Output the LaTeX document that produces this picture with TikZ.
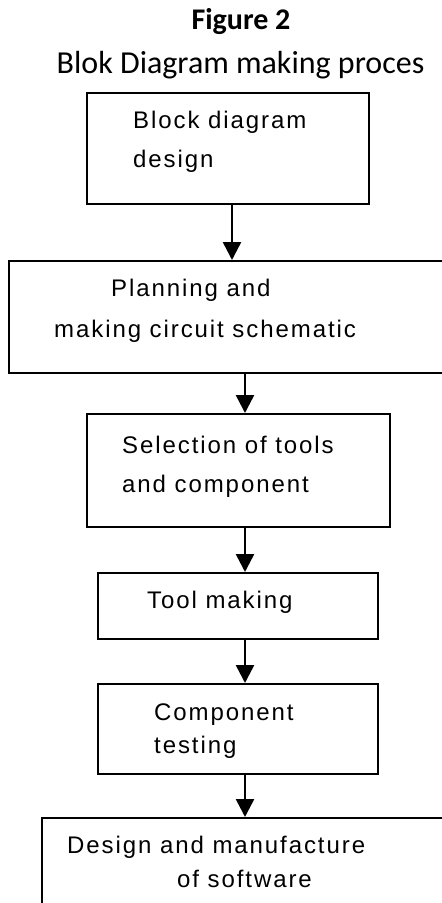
\documentclass[tikz,border=0pt]{standalone}
\usepackage{fontspec}
\setmainfont{Liberation Sans}
\newfontfamily\captionfont{Carlito}
\newfontfamily\boxfont{Liberation Sans}[LetterSpace=8]
\usetikzlibrary{arrows.meta}

\begin{document}
\begin{tikzpicture}[x=1pt, y=-1pt,
    box/.style={draw, line width=2pt, anchor=north west, inner sep=0pt},
    boxtext/.style={anchor=base west, align=left, inner sep=0pt, font=\boxfont\fontsize{24}{#1}\selectfont},
    boxtext/.default=39,
    flow/.style={-{Triangle[width=18pt,length=18pt]}, line width=2.5pt}]
    \useasboundingbox (0,0) rectangle (442,903);  % page size
    \clip (0,0) rectangle (442,903);  % cut the boxes that run off the page

    % Headings
    \node (title) [anchor=base, inner sep=0pt, font=\captionfont\bfseries\fontsize{30}{36}\selectfont] at (241,29) {Figure 2};  % figure number
    \node (subtitle) [anchor=base, inner sep=0pt, font=\captionfont\fontsize{32}{38}\selectfont] at (240.5,73) {Blok Diagram making proces};  % figure caption

    % Boxes
    \node (design) [box, minimum width=282pt, minimum height=111pt] at (86,92) {};  % first step
    \node (plan) [box, minimum width=460pt, minimum height=112pt] at (8,260) {};  % second step, runs off the right side
    \node (select) [box, minimum width=303pt, minimum height=113pt] at (86,413) {};  % third step
    \node (make) [box, minimum width=280pt, minimum height=66pt] at (97,572) {};  % fourth step
    \node (test) [box, minimum width=280pt, minimum height=90pt] at (97,683) {};  % fifth step
    \node (soft) [box, minimum width=430pt, minimum height=120pt] at (41,817) {};  % last step, runs off the page

    % Box texts (placed on the baseline of their last line)
    \node (designtext) [boxtext] at (133,167) {Block diagram\\design};
    \node (plantext) [boxtext=41] at (54,337) {\hspace*{57pt}Planning and\\making circuit schematic};
    \node (selecttext) [boxtext] at (122,492) {Selection of tools\\and component};
    \node (maketext) [boxtext] at (147,608) {Tool making};
    \node (testtext) [boxtext=33] at (154,753) {Component\\testing};
    \node (softtext) [boxtext=34] at (67,887) {Design and manufacture\\\hspace*{110pt}of software};

    % Arrows
    \coordinate (axisa) at (232,0);  % line of the first arrow
    \coordinate (axisb) at (245,0);  % line of the other arrows
    \draw [flow] (design.south -| axisa) -- (plan.north -| axisa);  % design to planning
    \draw [flow] (plan.south -| axisb) -- (select.north -| axisb);  % planning to selection
    \draw [flow] (select.south -| axisb) -- (make.north -| axisb);  % selection to making
    \draw [flow] (make.south -| axisb) -- (test.north -| axisb);  % making to testing
    \draw [flow] (test.south -| axisb) -- (soft.north -| axisb);  % testing to software
\end{tikzpicture}
\end{document}
